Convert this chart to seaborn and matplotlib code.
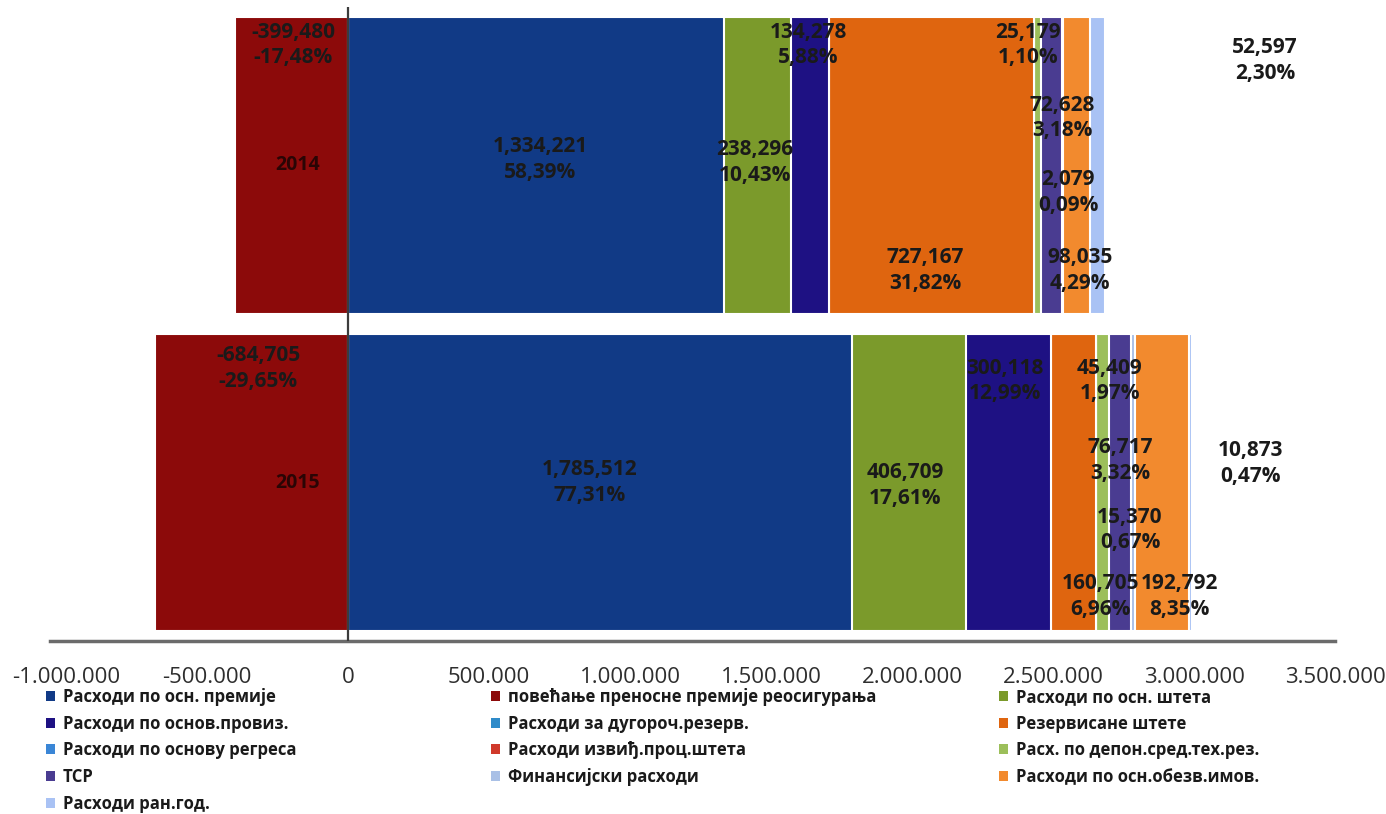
import numpy as np
import matplotlib
matplotlib.use("Agg")
import matplotlib.pyplot as plt
from matplotlib.patches import Patch
from matplotlib.ticker import FuncFormatter
import seaborn as sns

# ---------------- data ----------------
years = ["2014", "2015"]

series_names = [
    "Расходи по осн. премије",
    "повећање преносне премије реосигурања",
    "Расходи по осн. штета",
    "Расходи по основ.провиз.",
    "Расходи за дугороч.резерв.",
    "Резервисане штете",
    "Расходи по основу регреса",
    "Расходи извиђ.проц.штета",
    "Расх. по депон.сред.тех.рез.",
    "ТСР",
    "Финансијски расходи",
    "Расходи по осн.обезв.имов.",
    "Расходи ран.год.",
]

premiums = [1334221, 1785512]
reins_premium_increase = [-399480, -684705]
claims = [238296, 406709]
commissions = [134278, 300118]
longterm_reserves = [0, 0]
reserved_claims = [727167, 160705]
recourse = [0, 0]
claim_survey = [0, 0]
deposit_reserves = [25179, 45409]
tsr = [72628, 76717]
financial = [2079, 15370]
impairment = [98035, 192792]
prior_years = [52597, 10873]

series_values = [premiums, reins_premium_increase, claims, commissions,
                 longterm_reserves, reserved_claims, recourse, claim_survey,
                 deposit_reserves, tsr, financial, impairment, prior_years]

x_ticks = [-1000000, -500000, 0, 500000, 1000000, 1500000,
           2000000, 2500000, 3000000, 3500000]

# ---------------- styles ----------------
colors = ["#113A86", "#8C0A0A", "#7B9A2B", "#1E1183", "#2F8BC9", "#DF650F",
          "#3A86D6", "#D0392B", "#9CBF5A", "#4A3C91", "#A9C0E6", "#F28A2E",
          "#A9C2F4"]

# label anchor (x in data units, y offset in category units) per (series, year)
label_pos = {
    (1, 0): (-195000, -0.38), (0, 0): (681000, -0.02), (2, 0): (1443000, -0.01),
    (3, 0): (1631000, -0.38), (5, 0): (2046000, 0.33), (8, 0): (2411000, -0.38),
    (9, 0): (2532000, -0.15), (10, 0): (2553000, 0.085), (11, 0): (2596000, 0.33),
    (12, 0): (3252000, -0.33),
    (1, 1): (-319000, -0.36), (0, 1): (858000, 0.0), (2, 1): (1975000, 0.01),
    (3, 1): (2330000, -0.32), (5, 1): (2667000, 0.36), (8, 1): (2702000, -0.32),
    (9, 1): (2738000, -0.07), (10, 1): (2773000, 0.15), (11, 1): (2950000, 0.36),
    (12, 1): (3199000, -0.06),
}

sns.set_theme(style="white")
plt.rcParams["font.family"] = ["Open Sans", "DejaVu Sans"]

W, H = 1386, 814
fig = plt.figure(figsize=(W / 100, H / 100), dpi=100)
fig.patch.set_facecolor("white")
ax = fig.add_axes([50 / W, 1 - 641 / H, 1285 / W, 634 / H])

# stacked positive bars (drawn as overlapping cumulative bars)
pos_idx = [i for i in range(len(series_values)) if i != 1]
cum = np.cumsum(np.array([series_values[i] for i in pos_idx]), axis=0)
for k in reversed(range(len(pos_idx))):
    sns.barplot(x=cum[k], y=years, orient="h", color=colors[pos_idx[k]],
                width=0.94, edgecolor="white", linewidth=1.5, saturation=1,
                errorbar=None, ax=ax)
# negative series
sns.barplot(x=series_values[1], y=years, orient="h", color=colors[1],
            width=0.94, edgecolor="white", linewidth=1.5, saturation=1,
            errorbar=None, ax=ax)

ax.set_xlim(-1057000, 3500000)
ax.set_ylim(1.5, -0.5)
ax.set_xticks(x_ticks)
ax.xaxis.set_major_formatter(FuncFormatter(lambda v, p: f"{v:,.0f}".replace(",", ".")))
ax.tick_params(axis="x", length=0, pad=19, labelsize=16, labelcolor="#2e2e2e")
ax.tick_params(axis="y", length=0, labelleft=False)
ax.set_xlabel("")
ax.set_ylabel("")
sns.despine(ax=ax, left=True, top=True, right=True)
ax.spines["bottom"].set_color("#6b6b6b")
ax.spines["bottom"].set_linewidth(2.5)
ax.axvline(0, color="#3c3c3c", lw=1.6, zorder=6)

# category labels next to the value axis
for j, yr in enumerate(years):
    ax.annotate(yr, xy=(0, j), xytext=(-28, 0), textcoords="offset pixels",
                ha="right", va="center", fontsize=14, fontweight="bold",
                color="#2a0505", zorder=7)

# data labels
totals = [sum(s[j] for s in series_values) for j in range(len(years))]
for (si, yj), (lx, dy) in label_pos.items():
    v = series_values[si][yj]
    if v == 0:
        continue
    pct = f"{v / totals[yj] * 100:.2f}".replace(".", ",") + "%"
    ax.text(lx, yj + dy, f"{v:,}\n{pct}", ha="center", va="center",
            fontsize=15, fontweight="bold", color="#1a1a1a",
            linespacing=1.3, zorder=8)

# legend in three columns (row-major order like the original)
handles = [Patch(facecolor=c, edgecolor="none") for c in colors]
cols = [[0, 3, 6, 9, 12], [1, 4, 7, 10], [2, 5, 8, 11]]
col_x = [46, 491, 999]
for cx, idx in zip(col_x, cols):
    fig.legend([handles[i] for i in idx], [series_names[i] for i in idx],
               loc="upper left", bbox_to_anchor=(cx / W, 1 - 688 / H),
               frameon=False, borderpad=0, borderaxespad=0,
               handlelength=0.55, handleheight=0.55, handletextpad=0.45,
               labelspacing=0.52,
               prop={"size": 12, "weight": "bold"}, labelcolor="#1a1a1a")

fig.savefig("out.png", dpi=100, facecolor="white")
